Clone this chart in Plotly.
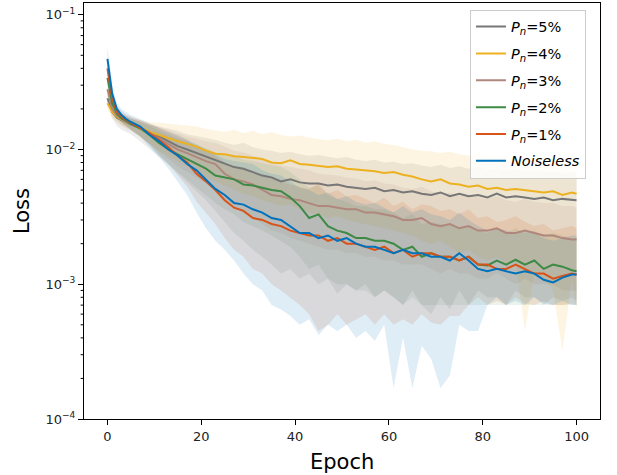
import plotly.graph_objects as go

# epochs sampled from the reference curves
epochs = [0, 1, 2, 3, 4, 5] + list(range(7, 100, 2)) + [100]

labels = ["<i>P</i><sub><i>n</i></sub>=5%", "<i>P</i><sub><i>n</i></sub>=4%",
          "<i>P</i><sub><i>n</i></sub>=3%", "<i>P</i><sub><i>n</i></sub>=2%",
          "<i>P</i><sub><i>n</i></sub>=1%", "<i>Noiseless</i>"]
colors = ["#777777", "#EDB120", "#B0877D", "#3D8A45", "#D95319", "#0072BD"]
band_alpha = [0.13, 0.13, 0.13, 0.10, 0.13, 0.13]

loss_p5 = [0.024, 0.019, 0.0172, 0.0165, 0.0158, 0.0153, 0.0145, 0.0132, 0.0125, 0.0115, 0.0106, 0.0100,
           0.0094, 0.0088, 0.0083, 0.0078, 0.0074, 0.0072, 0.0068, 0.0064, 0.0062, 0.0058, 0.0060, 0.0057,
           0.0056, 0.0056, 0.0054, 0.0055, 0.0053, 0.0052, 0.0051, 0.0052, 0.0049, 0.0050, 0.0048, 0.0049,
           0.0047, 0.0046, 0.0048, 0.0045, 0.0047, 0.0045, 0.0046, 0.0044, 0.0047, 0.0044, 0.0045, 0.0044,
           0.0043, 0.0044, 0.0042, 0.0043, 0.0042, 0.0042]
loss_p4 = [0.022, 0.019, 0.0175, 0.0167, 0.0160, 0.0155, 0.0147, 0.0135, 0.0128, 0.0120, 0.0115, 0.0110,
           0.0105, 0.0098, 0.0093, 0.0092, 0.0089, 0.0088, 0.0086, 0.0085, 0.0080, 0.0079, 0.0083, 0.0078,
           0.0077, 0.0075, 0.0074, 0.0075, 0.0072, 0.0071, 0.0070, 0.0069, 0.0067, 0.0068, 0.0065, 0.0063,
           0.0060, 0.0058, 0.0060, 0.0056, 0.0055, 0.0053, 0.0054, 0.0051, 0.0052, 0.0050, 0.0051, 0.0050,
           0.0049, 0.0048, 0.0049, 0.0046, 0.0048, 0.0047]
loss_p3 = [0.028, 0.020, 0.0178, 0.0168, 0.0160, 0.0155, 0.0145, 0.0132, 0.0120, 0.0110, 0.0100, 0.0094,
           0.0088, 0.0082, 0.0078, 0.0066, 0.0060, 0.0058, 0.0055, 0.0050, 0.0046, 0.0045, 0.0043, 0.0042,
           0.0040, 0.0038, 0.0038, 0.0037, 0.0036, 0.0036, 0.0034, 0.0034, 0.0033, 0.0032, 0.0030, 0.0030,
           0.0031, 0.0028, 0.0027, 0.0028, 0.0026, 0.0027, 0.0025, 0.0025, 0.0026, 0.0024, 0.0024, 0.0025,
           0.0024, 0.0023, 0.0023, 0.0022, 0.00215, 0.00215]
loss_p2 = [0.034, 0.022, 0.0185, 0.0170, 0.0163, 0.0155, 0.0143, 0.0128, 0.0112, 0.0100, 0.0092, 0.0085,
           0.0078, 0.0072, 0.0064, 0.0062, 0.0060, 0.0055, 0.0054, 0.0052, 0.0050, 0.0049, 0.0044, 0.0038,
           0.0031, 0.0033, 0.0027, 0.0025, 0.0024, 0.0022, 0.0022, 0.0021, 0.0021, 0.0020, 0.0018, 0.0019,
           0.0016, 0.0017, 0.0016, 0.0016, 0.0015, 0.0016, 0.0014, 0.00138, 0.0015, 0.0014, 0.00152, 0.0014,
           0.0015, 0.0013, 0.0014, 0.00135, 0.00127, 0.00125]
loss_p1 = [0.040, 0.024, 0.019, 0.0175, 0.0165, 0.0158, 0.0145, 0.0132, 0.0118, 0.0104, 0.0090, 0.0080,
           0.0066, 0.0058, 0.0050, 0.0042, 0.0037, 0.0035, 0.0031, 0.0030, 0.0028, 0.0027, 0.0025, 0.0024,
           0.0023, 0.0023, 0.0021, 0.0022, 0.0020, 0.0020, 0.0019, 0.0018, 0.0019, 0.0017, 0.0018, 0.0016,
           0.0017, 0.0017, 0.0016, 0.0016, 0.0015, 0.0016, 0.0014, 0.0014, 0.0013, 0.0013, 0.0014, 0.0013,
           0.0012, 0.0012, 0.0011, 0.00115, 0.0012, 0.00118]
loss_p0 = [0.047, 0.026, 0.020, 0.018, 0.0168, 0.016, 0.0148, 0.0128, 0.0115, 0.0100, 0.0090, 0.0078,
           0.0070, 0.0060, 0.0051, 0.0046, 0.0040, 0.0039, 0.0036, 0.0034, 0.0031, 0.0030, 0.0027, 0.0024,
           0.0024, 0.0022, 0.0023, 0.0021, 0.0022, 0.0020, 0.0019, 0.0019, 0.0018, 0.0017, 0.0018, 0.0017,
           0.0017, 0.0016, 0.0016, 0.0015, 0.0017, 0.0015, 0.0013, 0.00125, 0.0013, 0.00125, 0.0012, 0.00125,
           0.0012, 0.00108, 0.00103, 0.00112, 0.00118, 0.00118]

upper_p5 = [0.026, 0.021, 0.019, 0.018, 0.0172, 0.0168, 0.016, 0.0152, 0.0148, 0.0143, 0.0138, 0.0130,
            0.0126, 0.0122, 0.0118, 0.0112, 0.0108, 0.0112, 0.0104, 0.0100, 0.0098, 0.0094, 0.0096, 0.0092,
            0.0090, 0.0091, 0.0088, 0.0086, 0.0088, 0.0084, 0.0082, 0.0084, 0.0080, 0.0081, 0.0078, 0.0079,
            0.0076, 0.0074, 0.0077, 0.0073, 0.0075, 0.0072, 0.0074, 0.0071, 0.0073, 0.0070, 0.0071, 0.0069,
            0.0070, 0.0068, 0.0069, 0.0067, 0.0068, 0.0066]
lower_p5 = [0.022, 0.017, 0.015, 0.014, 0.0135, 0.013, 0.0115, 0.010, 0.0088, 0.0077, 0.0066, 0.0057,
            0.0049, 0.0042, 0.0035, 0.0029, 0.0024, 0.0021, 0.0018, 0.0016, 0.0014, 0.0012, 0.0013, 0.0011,
            0.0012, 0.0010, 0.0011, 0.00085, 0.0010, 0.0009, 0.0010, 0.0008, 0.0009, 0.0008, 0.0007, 0.0009,
            0.0007, 0.0006, 0.0008, 0.00065, 0.0009, 0.0007, 0.0009, 0.0008, 0.0008, 0.0007, 0.0009, 0.0008,
            0.0008, 0.0007, 0.0008, 0.00075, 0.0008, 0.00075]
upper_p4 = [0.024, 0.021, 0.019, 0.018, 0.0175, 0.017, 0.0165, 0.016, 0.0158, 0.0155, 0.0152, 0.0150,
            0.0148, 0.0142, 0.0138, 0.0135, 0.0140, 0.0132, 0.0138, 0.0130, 0.0134, 0.0128, 0.0125, 0.0127,
            0.0122, 0.0120, 0.0117, 0.0120, 0.0115, 0.0118, 0.0112, 0.0115, 0.0110, 0.0108, 0.0104, 0.0100,
            0.0098, 0.0097, 0.0094, 0.0096, 0.0092, 0.0090, 0.0093, 0.0089, 0.0086, 0.0088, 0.0084, 0.0085,
            0.0082, 0.0080, 0.0082, 0.0078, 0.0080, 0.0077]
lower_p4 = [0.020, 0.017, 0.016, 0.015, 0.0145, 0.014, 0.0125, 0.011, 0.0098, 0.009, 0.0082, 0.0075,
            0.0068, 0.0062, 0.0058, 0.0054, 0.0050, 0.0047, 0.0045, 0.0042, 0.0040, 0.0038, 0.0039, 0.0036,
            0.0034, 0.0033, 0.0031, 0.0032, 0.0030, 0.0029, 0.0028, 0.0027, 0.0026, 0.0025, 0.0024, 0.0023,
            0.0021, 0.0020, 0.0021, 0.0019, 0.0017, 0.0018, 0.0016, 0.0015, 0.0016, 0.0014, 0.0015, 0.00045,
            0.0012, 0.0011, 0.0009, 0.00032, 0.0011, 0.00064]
upper_p3 = [0.031, 0.022, 0.0195, 0.0185, 0.0178, 0.0172, 0.0165, 0.0155, 0.0148, 0.0140, 0.0132, 0.0125,
            0.0120, 0.0115, 0.0112, 0.0105, 0.0098, 0.0095, 0.0090, 0.0086, 0.0080, 0.0076, 0.0074, 0.0072,
            0.0070, 0.0066, 0.0065, 0.0064, 0.0062, 0.0061, 0.0058, 0.0059, 0.0056, 0.0055, 0.0052, 0.0051,
            0.0053, 0.0049, 0.0047, 0.0048, 0.0045, 0.0046, 0.0044, 0.0043, 0.0045, 0.0042, 0.0041, 0.0043,
            0.0041, 0.0040, 0.0040, 0.0038, 0.0038, 0.0037]
lower_p3 = [0.025, 0.018, 0.016, 0.015, 0.0142, 0.0138, 0.0125, 0.011, 0.0096, 0.0085, 0.0075, 0.0068,
            0.0062, 0.0056, 0.0050, 0.0042, 0.0037, 0.0034, 0.0031, 0.0028, 0.0025, 0.0024, 0.0022, 0.0021,
            0.0020, 0.0019, 0.0018, 0.0018, 0.0017, 0.0017, 0.0016, 0.0016, 0.0015, 0.0015, 0.0014, 0.0014,
            0.0014, 0.0013, 0.0012, 0.0013, 0.0012, 0.0012, 0.0011, 0.0011, 0.0012, 0.0011, 0.0010, 0.0011,
            0.0010, 0.0010, 0.0010, 0.0009, 0.0009, 0.0009]
upper_p2 = [0.037, 0.024, 0.020, 0.0185, 0.0178, 0.017, 0.016, 0.015, 0.0138, 0.0128, 0.0120, 0.0114,
            0.0108, 0.0102, 0.0095, 0.0092, 0.0090, 0.0084, 0.0082, 0.0079, 0.0076, 0.0074, 0.0068, 0.0060,
            0.0052, 0.0054, 0.0046, 0.0043, 0.0041, 0.0038, 0.0038, 0.0036, 0.0036, 0.0034, 0.0031, 0.0033,
            0.0028, 0.0029, 0.0028, 0.0028, 0.0026, 0.0027, 0.0025, 0.0024, 0.0026, 0.0024, 0.0026, 0.0024,
            0.0025, 0.0023, 0.0024, 0.0023, 0.0022, 0.0022]
lower_p2 = [0.031, 0.020, 0.017, 0.0155, 0.0148, 0.014, 0.0125, 0.0108, 0.0090, 0.0078, 0.0068, 0.0060,
            0.0052, 0.0046, 0.0040, 0.0036, 0.0033, 0.0029, 0.0027, 0.0025, 0.0023, 0.0021, 0.0019, 0.0016,
            0.0013, 0.0014, 0.0011, 0.0010, 0.0010, 0.0009, 0.0009, 0.0008, 0.0009, 0.0008, 0.0007, 0.0008,
            0.0007, 0.0007, 0.0007, 0.0007, 0.0007, 0.0007, 0.0007, 0.0007, 0.0007, 0.0007, 0.0007, 0.0007,
            0.0007, 0.0007, 0.0007, 0.0007, 0.0007, 0.0007]
upper_p1 = [0.044, 0.027, 0.021, 0.0192, 0.0182, 0.0175, 0.0165, 0.0155, 0.0145, 0.0135, 0.0125, 0.0118,
            0.0105, 0.0098, 0.0090, 0.0080, 0.0074, 0.0072, 0.0066, 0.0064, 0.0060, 0.0058, 0.0055, 0.0053,
            0.0051, 0.0056, 0.0047, 0.0050, 0.0045, 0.0046, 0.0043, 0.0040, 0.0044, 0.0038, 0.0041, 0.0036,
            0.0039, 0.0038, 0.0035, 0.0036, 0.0033, 0.0036, 0.0031, 0.0032, 0.0029, 0.0030, 0.0032, 0.0029,
            0.0027, 0.0028, 0.0025, 0.0026, 0.0027, 0.0026]
lower_p1 = [0.036, 0.021, 0.017, 0.0158, 0.0148, 0.014, 0.0125, 0.011, 0.0092, 0.0078, 0.0064, 0.0053,
            0.0041, 0.0034, 0.0028, 0.0022, 0.0018, 0.0016, 0.0013, 0.0012, 0.0010, 0.0009, 0.0008, 0.0007,
            0.0006, 0.00045, 0.0005, 0.0006, 0.0005, 0.00055, 0.0006, 0.0005, 0.0006, 0.0005, 0.00055, 0.0005,
            0.0006, 0.00052, 0.0005, 0.00058, 0.00058, 0.0007, 0.0008, 0.0007, 0.00075, 0.0007, 0.0008, 0.00072,
            0.0007, 0.00075, 0.0007, 0.0007, 0.00072, 0.0007]
upper_p0 = [0.058, 0.030, 0.022, 0.020, 0.0188, 0.018, 0.0168, 0.0155, 0.0145, 0.0135, 0.0128, 0.0118,
            0.0110, 0.0100, 0.0092, 0.0085, 0.0082, 0.0080, 0.0078, 0.0070, 0.0066, 0.0064, 0.0058, 0.0052,
            0.0050, 0.0046, 0.0048, 0.0043, 0.0045, 0.0041, 0.0039, 0.0040, 0.0037, 0.0034, 0.0038, 0.0034,
            0.0036, 0.0033, 0.0032, 0.0030, 0.0034, 0.0030, 0.0027, 0.0025, 0.0026, 0.0025, 0.0024, 0.0025,
            0.0024, 0.0022, 0.0021, 0.0022, 0.0023, 0.0023]
lower_p0 = [0.040, 0.022, 0.018, 0.016, 0.015, 0.014, 0.0125, 0.0105, 0.0088, 0.0072, 0.0058, 0.0046,
            0.0034, 0.0026, 0.0021, 0.0018, 0.0015, 0.0012, 0.0010, 0.0009, 0.0007, 0.00065, 0.00058, 0.0005,
            0.00055, 0.00042, 0.0005, 0.00045, 0.0005, 0.00040, 0.00045, 0.00038, 0.0005, 0.00017, 0.0004, 0.00017,
            0.00035, 0.00028, 0.00017, 0.00021, 0.0005, 0.00045, 0.00045, 0.0007, 0.0008, 0.0007, 0.00075, 0.0007,
            0.0008, 0.00072, 0.0007, 0.00075, 0.0007, 0.0007]

means = [loss_p5, loss_p4, loss_p3, loss_p2, loss_p1, loss_p0]
uppers = [upper_p5, upper_p4, upper_p3, upper_p2, upper_p1, upper_p0]
lowers = [lower_p5, lower_p4, lower_p3, lower_p2, lower_p1, lower_p0]


def rgba(hex_color, alpha):
    h = hex_color.lstrip("#")
    r, g, b = int(h[0:2], 16), int(h[2:4], 16), int(h[4:6], 16)
    return f"rgba({r},{g},{b},{alpha})"


fig = go.Figure()

# shaded spread first, so every line sits above all bands
for col, a, up, lo in zip(colors, band_alpha, uppers, lowers):
    fig.add_trace(go.Scatter(x=epochs, y=up, mode="lines", line=dict(width=0),
                             showlegend=False, hoverinfo="skip"))
    fig.add_trace(go.Scatter(x=epochs, y=lo, mode="lines", line=dict(width=0),
                             fill="tonexty", fillcolor=rgba(col, a),
                             showlegend=False, hoverinfo="skip"))

for i, (name, col, y) in enumerate(zip(labels, colors, means)):
    fig.add_trace(go.Scatter(x=epochs, y=y, mode="lines", name=name,
                             legendgroup=f"g{i}", line=dict(color=col, width=2)))

axis_common = dict(showline=True, linecolor="black", linewidth=1, mirror=True,
                   ticks="outside", ticklen=5, tickcolor="black", showgrid=False,
                   zeroline=False, tickfont=dict(family="DejaVu Sans", size=13, color="#222"))

fig.update_xaxes(range=[-5, 105], tickvals=[0, 20, 40, 60, 80, 100], **axis_common)
fig.update_yaxes(type="log", range=[-4, -0.913],
                 tickvals=[1e-4, 1e-3, 1e-2, 1e-1],
                 ticktext=["10<sup>−4</sup>", "10<sup>−3</sup>", "10<sup>−2</sup>", "10<sup>−1</sup>"],
                 **axis_common)

# log minor ticks on the left spine (2..9 within each decade)
for e in (-4, -3, -2):
    for k in range(2, 10):
        fig.add_shape(type="line", xref="paper", yref="y", x0=0, x1=-0.0065,
                      y0=k * 10.0 ** e, y1=k * 10.0 ** e,
                      line=dict(color="black", width=1))

fig.add_annotation(text="Loss", xref="paper", yref="paper", x=-0.12, y=0.5,
                   textangle=-90, showarrow=False, xanchor="center", yanchor="middle",
                   font=dict(family="DejaVu Sans", size=21, color="black"))
fig.add_annotation(text="Epoch", xref="paper", yref="paper", x=0.5, y=-0.104,
                   showarrow=False, xanchor="center", yanchor="middle",
                   font=dict(family="DejaVu Sans", size=21, color="black"))

fig.update_layout(
    width=617, height=475,
    margin=dict(l=84, r=17, t=3, b=56),
    paper_bgcolor="white", plot_bgcolor="white",
    font=dict(family="DejaVu Sans"),
    legend=dict(x=0.748, y=0.984, xanchor="left", yanchor="top",
                bgcolor="rgba(255,255,255,0.8)", bordercolor="#cccccc", borderwidth=1,
                font=dict(family="DejaVu Sans", size=14.5, color="black"),
                traceorder="grouped", tracegroupgap=5, itemwidth=30),
)

fig.write_html("out.html", config={"displayModeBar": False},
               post_script="document.body.style.margin='0';")
